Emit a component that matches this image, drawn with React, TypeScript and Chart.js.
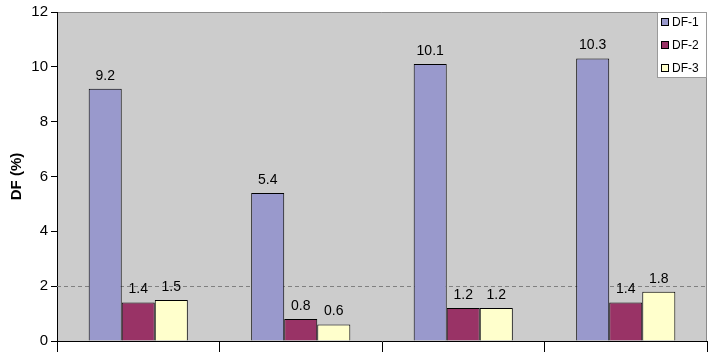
import React, { useEffect, useRef } from "react";
import { Chart, registerables } from "chart.js";

Chart.register(...registerables);

const categories = ["", "", "", ""];
const seriesNames = ["DF-1", "DF-2", "DF-3"];
const df1 = [9.2, 5.4, 10.1, 10.3];
const df2 = [1.4, 0.8, 1.2, 1.4];
const df3 = [1.5, 0.6, 1.2, 1.8];
const seriesColors = ["#9999CC", "#993366", "#FFFFCC"];
const yTicks = [0, 2, 4, 6, 8, 10, 12];
const referenceLine = 2;

const FONT = "Arial, 'Liberation Sans', sans-serif";

const overlayPlugin = {
  id: "overlay",
  beforeDraw(chart: any) {
    const { ctx, chartArea } = chart;
    ctx.save();
    ctx.fillStyle = "#cccccc";
    ctx.fillRect(chartArea.left, chartArea.top, chartArea.right - chartArea.left, chartArea.bottom - chartArea.top);
    ctx.strokeStyle = "#8a8a8a";
    ctx.lineWidth = 1;
    ctx.beginPath();
    ctx.moveTo(chartArea.left, chartArea.top + 0.5);
    ctx.lineTo(chartArea.right - 0.5, chartArea.top + 0.5);
    ctx.lineTo(chartArea.right - 0.5, chartArea.bottom);
    ctx.stroke();
    ctx.restore();
  },
  beforeDatasetsDraw(chart: any) {
    const { ctx, chartArea, scales } = chart;
    const y = Math.round(scales.y.getPixelForValue(referenceLine)) + 0.5;
    ctx.save();
    ctx.strokeStyle = "#808080";
    ctx.lineWidth = 1;
    ctx.setLineDash([4, 3]);
    ctx.beginPath();
    ctx.moveTo(chartArea.left, y);
    ctx.lineTo(chartArea.right, y);
    ctx.stroke();
    ctx.restore();
  },
  afterDraw(chart: any) {
    const { ctx, chartArea } = chart;
    ctx.save();
    // data labels
    ctx.fillStyle = "#000";
    ctx.font = `14px ${FONT}`;
    ctx.textAlign = "center";
    ctx.textBaseline = "bottom";
    chart.data.datasets.forEach((ds: any, i: number) => {
      const meta = chart.getDatasetMeta(i);
      meta.data.forEach((bar: any, j: number) => {
        ctx.fillText(String(ds.data[j]), bar.x, bar.y - 6);
      });
    });
    // y axis title
    ctx.save();
    ctx.translate(17, (chartArea.top + chartArea.bottom) / 2);
    ctx.rotate(-Math.PI / 2);
    ctx.font = `bold 15px ${FONT}`;
    ctx.textAlign = "center";
    ctx.textBaseline = "middle";
    ctx.fillText("DF (%)", 0, 0);
    ctx.restore();
    // legend
    const lx = 657, ly = 12, lw = chartArea.right - 657, lh = 66;
    ctx.fillStyle = "#ffffff";
    ctx.fillRect(lx, ly, lw, lh);
    ctx.strokeStyle = "#9a9a9a";
    ctx.lineWidth = 1;
    ctx.strokeRect(lx + 0.5, ly + 0.5, lw - 1, lh - 1);
    ctx.font = `12px ${FONT}`;
    ctx.textAlign = "left";
    ctx.textBaseline = "middle";
    seriesNames.forEach((name, i) => {
      const cy = ly + 10 + i * 23;
      ctx.fillStyle = seriesColors[i];
      ctx.fillRect(lx + 4, cy - 3, 7, 7);
      ctx.strokeStyle = "#000";
      ctx.strokeRect(lx + 4.5, cy - 3.5, 7, 7);
      ctx.fillStyle = "#000";
      ctx.fillText(name, lx + 15, cy + 0.5);
    });
    ctx.restore();
  },
};

export default function App() {
  const ref = useRef<HTMLCanvasElement>(null);
  useEffect(() => {
    document.body.style.margin = "0";
    const chart = new Chart(ref.current!, {
      type: "bar",
      data: {
        labels: categories,
        datasets: [df1, df2, df3].map((d, i) => ({
          label: seriesNames[i],
          data: d,
          backgroundColor: seriesColors[i],
          borderColor: "#000",
          borderWidth: 1,
          borderSkipped: "bottom",
          categoryPercentage: 0.61,
          barPercentage: 1,
        })),
      },
      options: {
        responsive: false,
        animation: false,
        layout: { padding: { top: 12, right: 3, left: 0, bottom: 0 } },
        plugins: { legend: { display: false }, tooltip: { enabled: false } },
        scales: {
          x: {
            offset: true,
            grid: { offset: true, drawOnChartArea: false, drawTicks: true, tickLength: 11, color: "#000" },
            border: { display: true, color: "#000", width: 1 },
            ticks: { display: false },
            afterFit: (s: any) => { s.height = 12; },
          },
          y: {
            min: 0,
            max: 12,
            afterBuildTicks: (s: any) => { s.ticks = yTicks.map((v) => ({ value: v })); },
            grid: { drawOnChartArea: false, drawTicks: true, tickLength: 6, color: "#000" },
            border: { display: true, color: "#000", width: 1 },
            ticks: { color: "#000", font: { size: 15, family: FONT }, padding: 3 },
            afterFit: (s: any) => { s.width = 57; },
          },
        },
      },
      plugins: [overlayPlugin],
    });
    return () => chart.destroy();
  }, []);
  return <canvas ref={ref} width={710} height={353} style={{ display: "block" }} />;
}
